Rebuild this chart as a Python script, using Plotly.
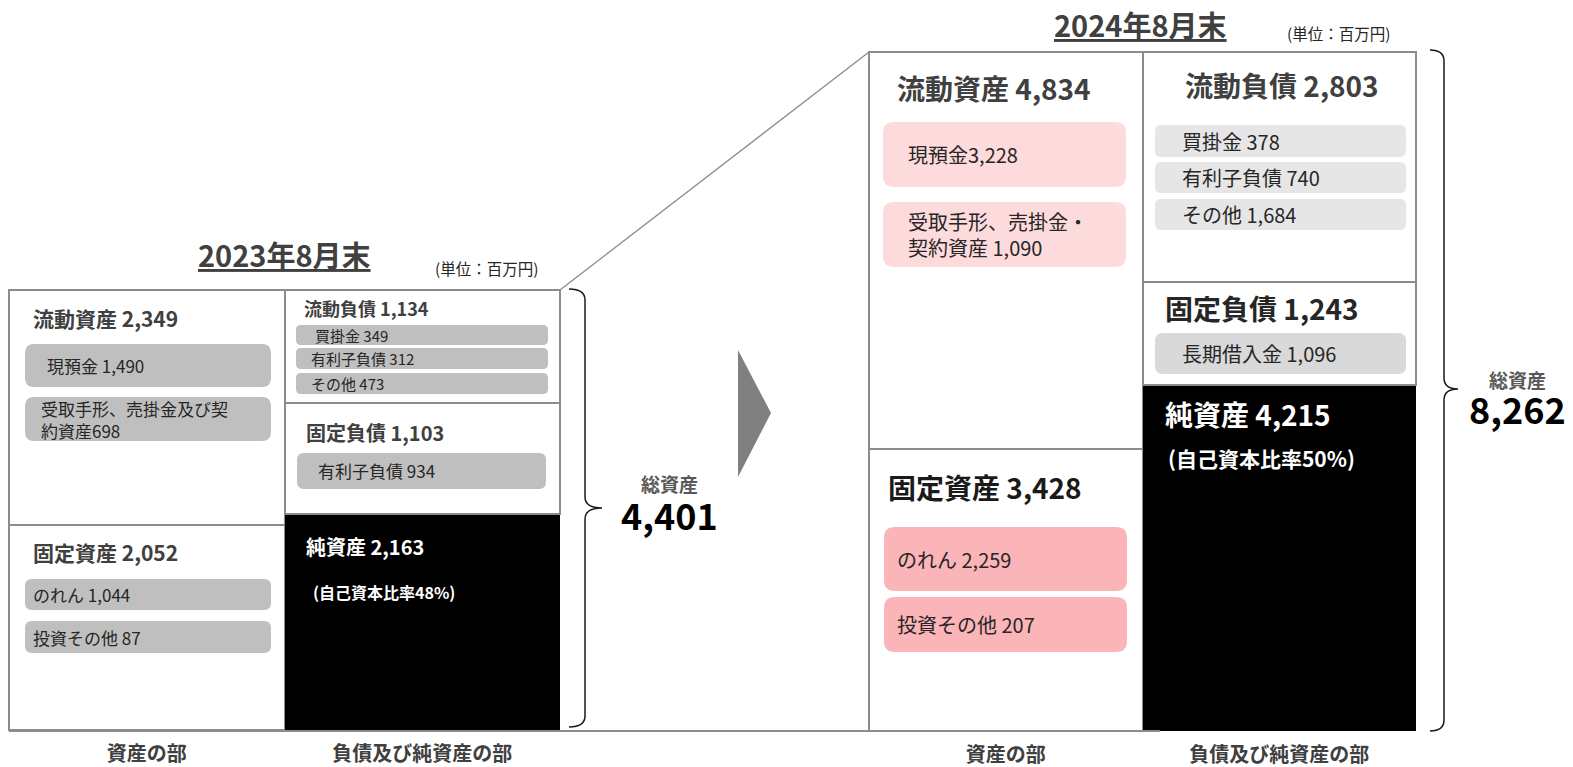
import plotly.graph_objects as go

# ---------------- data ----------------
periods = ["2023年8月末", "2024年8月末"]
columns = ["資産の部", "負債及び純資産の部"]

# 2023
ca_2023 = 2349   # 流動資産
fa_2023 = 2052   # 固定資産
cl_2023 = 1134   # 流動負債
fl_2023 = 1103   # 固定負債
na_2023 = 2163   # 純資産
total_2023 = 4401
ratio_2023 = 48

ca_items_2023 = ["現預金 ", "受取手形、売掛金及び契<br>約資産"]
ca_vals_2023 = [1490, 698]
fa_items_2023 = ["のれん ", "投資その他 "]
fa_vals_2023 = [1044, 87]
cl_items_2023 = ["買掛金 ", "有利子負債 ", "その他 "]
cl_vals_2023 = [349, 312, 473]
fl_items_2023 = ["有利子負債 "]
fl_vals_2023 = [934]

# 2024
ca_2024 = 4834
fa_2024 = 3428
cl_2024 = 2803
fl_2024 = 1243
na_2024 = 4215
total_2024 = 8262
ratio_2024 = 50

ca_items_2024 = ["現預金", "受取手形、売掛金・<br>契約資産 "]
ca_vals_2024 = [3228, 1090]
fa_items_2024 = ["のれん ", "投資その他 "]
fa_vals_2024 = [2259, 207]
cl_items_2024 = ["買掛金 ", "有利子負債 ", "その他 "]
cl_vals_2024 = [378, 740, 1684]
fl_items_2024 = ["長期借入金 "]
fl_vals_2024 = [1096]

unit_label = "(単位：百万円)"
total_title = "総資産"

# ---------------- layout helpers ----------------
W, H = 1573, 767
FONT = "Noto Sans CJK JP"
GRAY_LINE = "#8c8c8c"


def X(px):
    return px / W


def Y(py):
    return 1 - py / H


def fmt(v):
    return f"{v:,}"


fig = go.Figure()

# panel geometry in pixels (left, right, top, bottom)
panels = [
    dict(xa="x", ya="y", l=9, r=560, t=290, b=730, total=total_2023,
         ca=ca_2023, fa=fa_2023, cl=cl_2023, fl=fl_2023, na=na_2023),
    dict(xa="x2", ya="y2", l=869, r=1416, t=52, b=731, total=total_2024,
         ca=ca_2024, fa=fa_2024, cl=cl_2024, fl=fl_2024, na=na_2024),
]

pad = 3
for i, p in enumerate(panels):
    sfx = "" if i == 0 else str(i + 1)
    kx = (p["r"] - p["l"]) / 2.0
    ky = (p["b"] - p["t"]) / p["total"]
    white = dict(color="white", line=dict(color=GRAY_LINE, width=2))
    black = dict(color="black", line=dict(color="black", width=0))
    traces = [
        (columns[0], p["fa"], white),
        (columns[0], p["ca"], white),
        (columns[1], p["na"], black),
        (columns[1], p["fl"], white),
        (columns[1], p["cl"], white),
    ]
    for cat, val, mk in traces:
        fig.add_trace(go.Bar(x=[cat], y=[val], width=1, marker=mk,
                             xaxis=p["xa"], yaxis=p["ya"], showlegend=False,
                             hoverinfo="skip"))
    fig.layout["xaxis" + sfx] = dict(
        domain=[X(p["l"] - pad), X(p["r"] + pad)],
        range=[-0.5 - pad / kx, 1.5 + pad / kx],
        type="category", categoryorder="array", categoryarray=columns,
        showgrid=False, zeroline=False, showline=False, ticks="",
        tickfont=dict(family=FONT, size=20, color="#404040", weight="bold"),
        ticklabelstandoff=7, automargin=False,
        anchor="y" + sfx, fixedrange=True)
    fig.layout["yaxis" + sfx] = dict(
        domain=[Y(p["b"] + pad), Y(p["t"] - pad)],
        range=[-pad / ky, p["total"] + pad / ky],
        visible=False, automargin=False, anchor="x" + sfx, fixedrange=True)

shapes = []
annos = []


def rrect(x0, y0, x1, y1, r, color):
    path = (f"M {X(x0 + r)} {Y(y0)} L {X(x1 - r)} {Y(y0)} "
            f"Q {X(x1)} {Y(y0)} {X(x1)} {Y(y0 + r)} L {X(x1)} {Y(y1 - r)} "
            f"Q {X(x1)} {Y(y1)} {X(x1 - r)} {Y(y1)} L {X(x0 + r)} {Y(y1)} "
            f"Q {X(x0)} {Y(y1)} {X(x0)} {Y(y1 - r)} L {X(x0)} {Y(y0 + r)} "
            f"Q {X(x0)} {Y(y0)} {X(x0 + r)} {Y(y0)} Z")
    shapes.append(dict(type="path", path=path, xref="paper", yref="paper",
                       fillcolor=color, line=dict(width=0), layer="above"))


def text(x, y, s, size, color="#262626", bold=False, anchor="left",
         align="left", yanchor="middle"):
    t = f"<b>{s}</b>" if bold else s
    annos.append(dict(x=X(x), y=Y(y), xref="paper", yref="paper", text=t,
                      showarrow=False, xanchor=anchor, yanchor=yanchor,
                      align=align,
                      font=dict(family=FONT, size=size, color=color)))


def pill(x0, y0, x1, y1, r, color, tx, s, size):
    rrect(x0, y0, x1, y1, r, color)
    text(tx, (y0 + y1) / 2, s, size)


def path_line(pts, color, width, fill=None):
    d = "M " + " ".join(f"{'L ' if j else ''}{X(a)} {Y(b)}" for j, (a, b) in enumerate(pts))
    if fill:
        d += " Z"
    shapes.append(dict(type="path", path=d, xref="paper", yref="paper",
                       line=dict(color=color, width=width),
                       fillcolor=fill if fill else "rgba(0,0,0,0)", layer="above"))


def brace(x0, xv, xt, ytop, ymid, ybot):
    r = 11
    d = (f"M {X(x0)} {Y(ytop)} Q {X(xv)} {Y(ytop)} {X(xv)} {Y(ytop + r)} "
         f"L {X(xv)} {Y(ymid - r)} Q {X(xv)} {Y(ymid)} {X(xt)} {Y(ymid)} "
         f"Q {X(xv)} {Y(ymid)} {X(xv)} {Y(ymid + r)} "
         f"L {X(xv)} {Y(ybot - r)} Q {X(xv)} {Y(ybot)} {X(x0)} {Y(ybot)}")
    shapes.append(dict(type="path", path=d, xref="paper", yref="paper",
                       line=dict(color="#1a1a1a", width=1.5), layer="above"))


def total_label(x, y_title, y_value, value):
    text(x, y_title, total_title, 19, "#595959", bold=True, anchor="center")
    text(x, y_value, fmt(value), 36, "black", bold=True, anchor="center")


# ---- connectors, baseline, arrow ----
path_line([(9, 731), (1160, 731)], GRAY_LINE, 2)
path_line([(560, 290), (869, 52)], GRAY_LINE, 1.3)
path_line([(738, 350), (771, 413), (738, 477)], "#808080", 0, fill="#808080")

# ---- 2023 panel ----
text(284, 254, f"<u>{periods[0]}</u>", 29, "#404040", bold=True, anchor="center")
text(486, 268, unit_label, 15.5, "#262626", anchor="center")
text(31, 318, "流動資産 " + fmt(ca_2023), 21, "#404040", bold=True)
text(31, 552, "固定資産 " + fmt(fa_2023), 21, "#404040", bold=True)
text(302, 308, "流動負債 " + fmt(cl_2023), 18, "#404040", bold=True)
text(304, 432, "固定負債 " + fmt(fl_2023), 20, "#404040", bold=True)
text(304, 546, "純資産 " + fmt(na_2023), 20, "white", bold=True)
text(311, 592, f"(自己資本比率{ratio_2023}%)", 16, "white", bold=True)

G1 = "#bfbfbf"
pill(25, 344, 271, 387, 9, G1, 45, ca_items_2023[0] + fmt(ca_vals_2023[0]), 17)
pill(25, 397, 271, 441, 9, G1, 39, ca_items_2023[1] + fmt(ca_vals_2023[1]), 17)
pill(25, 579, 271, 610, 7, G1, 31, fa_items_2023[0] + fmt(fa_vals_2023[0]), 17)
pill(25, 621, 271, 653, 7, G1, 31, fa_items_2023[1] + fmt(fa_vals_2023[1]), 17)
pill(296, 325, 548, 345, 5, G1, 313, cl_items_2023[0] + fmt(cl_vals_2023[0]), 15)
pill(296, 348, 548, 369, 5, G1, 309, cl_items_2023[1] + fmt(cl_vals_2023[1]), 15)
pill(296, 373, 548, 394, 5, G1, 309, cl_items_2023[2] + fmt(cl_vals_2023[2]), 15)
pill(297, 453, 546, 489, 7, G1, 316, fl_items_2023[0] + fmt(fl_vals_2023[0]), 17)

brace(569, 585, 602, 289, 508, 727)
total_label(669, 483, 514, total_2023)

# ---- 2024 panel ----
text(1140, 24, f"<u>{periods[1]}</u>", 29, "#404040", bold=True, anchor="center")
text(1338, 33, unit_label, 15.5, "#262626", anchor="center")
text(895, 88, "流動資産 " + fmt(ca_2024), 28, "#404040", bold=True)
text(886, 487, "固定資産 " + fmt(fa_2024), 28, "#1a1a1a", bold=True)
text(1183, 85, "流動負債 " + fmt(cl_2024), 28, "#404040", bold=True)
text(1163, 308, "固定負債 " + fmt(fl_2024), 28, "#262626", bold=True)
text(1163, 414, "純資産 " + fmt(na_2024), 28, "white", bold=True)
text(1166, 458, f"(自己資本比率{ratio_2024}%)", 21, "white", bold=True)

P1, P2 = "#fddadb", "#fbb4b8"
pill(883, 122, 1126, 187, 11, P1, 906, ca_items_2024[0] + fmt(ca_vals_2024[0]), 20)
pill(883, 202, 1126, 267, 11, P1, 906, ca_items_2024[1] + fmt(ca_vals_2024[1]), 20)
pill(884, 527, 1127, 591, 11, P2, 895, fa_items_2024[0] + fmt(fa_vals_2024[0]), 20)
pill(884, 597, 1127, 652, 11, P2, 895, fa_items_2024[1] + fmt(fa_vals_2024[1]), 20)
G2, G3 = "#e7e6e6", "#d9d9d9"
pill(1155, 125, 1406, 157, 6, G2, 1180, cl_items_2024[0] + fmt(cl_vals_2024[0]), 20)
pill(1155, 162, 1406, 193, 6, G2, 1180, cl_items_2024[1] + fmt(cl_vals_2024[1]), 20)
pill(1155, 199, 1406, 230, 6, G2, 1180, cl_items_2024[2] + fmt(cl_vals_2024[2]), 20)
pill(1155, 333, 1406, 374, 8, G3, 1180, fl_items_2024[0] + fmt(fl_vals_2024[0]), 20)

brace(1430, 1444, 1458, 50, 389, 731)
total_label(1517, 379, 408, total_2024)

fig.update_layout(
    width=W, height=H, margin=dict(l=0, r=0, t=0, b=0, autoexpand=False),
    paper_bgcolor="white", plot_bgcolor="rgba(0,0,0,0)",
    barmode="stack", bargap=0, showlegend=False,
    shapes=shapes, annotations=annos,
    font=dict(family=FONT),
)

fig.write_html("out.html", config={"displayModeBar": False},
               post_script="document.body.style.margin='0px';document.body.style.overflow='hidden';")
